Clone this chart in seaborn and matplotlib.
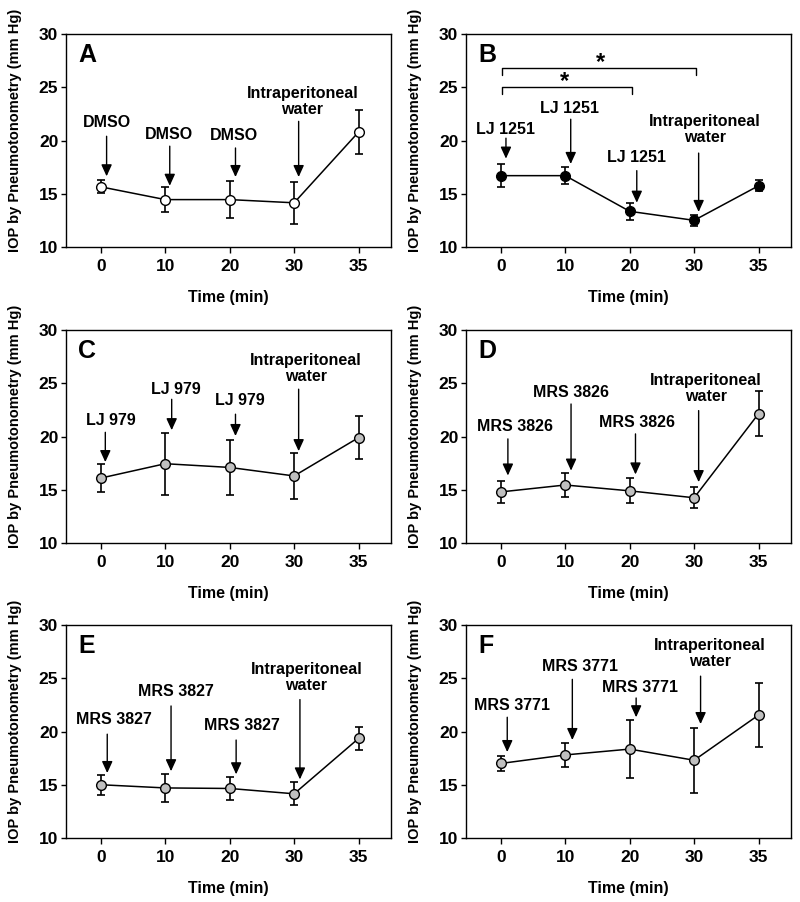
import numpy as np
import pandas as pd
import matplotlib
matplotlib.use("Agg")
import matplotlib.pyplot as plt
import seaborn as sns

sns.set_style("ticks")
plt.rcParams['font.family'] = ['Liberation Sans', 'DejaVu Sans']
plt.rcParams['font.weight'] = 'bold'
plt.rcParams['axes.labelweight'] = 'bold'
plt.rcParams['text.color'] = 'black'
plt.rcParams['axes.labelcolor'] = 'black'
plt.rcParams['xtick.color'] = 'black'
plt.rcParams['ytick.color'] = 'black'
plt.rcParams['axes.edgecolor'] = 'black'

# ---------------- data ----------------
times = ['0', '10', '20', '30', '35']

iop_A = [15.65, 14.45, 14.45, 14.15, 20.8]
sem_A = [0.6, 1.2, 1.75, 2.0, 2.1]
iop_B = [16.7, 16.7, 13.35, 12.5, 15.75]
sem_B = [1.1, 0.8, 0.78, 0.53, 0.5]
iop_C = [16.1, 17.45, 17.1, 16.3, 19.9]
sem_C = [1.35, 2.9, 2.6, 2.15, 2.0]
iop_D = [14.8, 15.45, 14.9, 14.25, 22.15]
sem_D = [1.03, 1.17, 1.18, 1.0, 2.14]
iop_E = [15.0, 14.7, 14.65, 14.15, 19.35]
sem_E = [0.93, 1.35, 1.04, 1.1, 1.05]
iop_F = [17.0, 17.8, 18.35, 17.3, 21.55]
sem_F = [0.73, 1.15, 2.73, 3.07, 3.03]

panel_letters = ['A', 'B', 'C', 'D', 'E', 'F']
drugs = ['DMSO', 'LJ 1251', 'LJ 979', 'MRS 3826', 'MRS 3827', 'MRS 3771']
water_label = 'Intraperitoneal\nwater'
face_colors = ['white', 'black', '#c0c0c0', '#c0c0c0', '#c0c0c0', '#c0c0c0']

# annotation layout: (text_x, text_y, arrow_x, arrow_y_start, arrow_y_end) per injection
ann_A = [(0.09, 21.67, 0.09, 20.4, 16.64), (1.05, 20.57, 1.07, 19.47, 15.75),
         (2.06, 20.47, 2.09, 19.3, 16.57), (3.13, 23.67, 3.07, 21.8, 16.57)]
ann_B = [(0.08, 21.06, 0.08, 20.22, 18.3), (1.07, 23.0, 1.085, 22.0, 17.8),
         (2.1, 18.4, 2.11, 17.17, 14.16), (3.17, 21.03, 3.07, 18.82, 13.29)]
ann_C = [(0.15, 21.5, 0.07, 20.4, 17.6), (1.17, 24.45, 1.1, 23.5, 20.6),
         (2.16, 23.35, 2.09, 22.1, 20.05), (3.18, 26.37, 3.07, 24.45, 18.63)]
ann_D = [(0.22, 20.94, 0.11, 19.78, 16.34), (1.09, 24.16, 1.09, 23.06, 16.8),
         (2.11, 21.34, 2.09, 20.25, 16.44), (3.18, 24.55, 3.07, 22.44, 15.72)]
ann_E = [(0.21, 21.1, 0.1, 19.75, 16.1), (1.17, 23.8, 1.09, 22.4, 16.27),
         (2.19, 20.6, 2.1, 19.2, 15.98), (3.19, 25.1, 3.09, 23.0, 15.5)]
ann_F = [(0.18, 22.43, 0.1, 21.34, 18.07), (1.23, 26.15, 1.11, 24.9, 19.2),
         (2.16, 24.15, 2.1, 23.15, 21.34), (3.24, 27.32, 3.1, 25.2, 20.7)]

values = [iop_A, iop_B, iop_C, iop_D, iop_E, iop_F]
sems = [sem_A, sem_B, sem_C, sem_D, sem_E, sem_F]
anns = [ann_A, ann_B, ann_C, ann_D, ann_E, ann_F]

# significance brackets in panel B: (x_start, x_end, y_bar, label_x, label_y)
brackets_B = [(0.02, 3.03, 26.83, 1.54, 27.3), (0.02, 2.04, 25.0, 0.99, 25.5)]

# ---------------- figure ----------------
fig = plt.figure(figsize=(8, 9.02), dpi=100)
lefts = [0.0825, 0.5825]
bottoms = [0.7262, 0.398, 0.071]
W, H = 0.406, 0.236

pos = np.arange(len(times))

for i in range(6):
    r, c = divmod(i, 2)
    ax = fig.add_axes([lefts[c], bottoms[r], W, H])
    df = pd.DataFrame({'pos': pos, 'iop': values[i]})
    ax.errorbar(pos, values[i], yerr=sems[i], fmt='none', ecolor='black',
                elinewidth=1.2, capsize=3.2, capthick=1.2, zorder=2)
    sns.lineplot(data=df, x='pos', y='iop', ax=ax, color='black', linewidth=1.1,
                 marker='o', markersize=7, markerfacecolor=face_colors[i],
                 markeredgecolor='black', markeredgewidth=1.0, zorder=3)
    ax.set_xlim(-0.54, 4.5)
    ax.set_ylim(10, 30)
    ax.set_xticks(pos)
    ax.set_xticklabels(times)
    ax.set_yticks([10, 15, 20, 25, 30])
    ax.tick_params(axis='x', direction='out', length=4.5, width=1, labelsize=12.5, pad=4,
                   colors='black')
    ax.tick_params(axis='y', direction='out', length=3.5, width=1, labelsize=12.5, pad=2,
                   colors='black')
    for lab in ax.get_xticklabels() + ax.get_yticklabels():
        lab.set_fontweight('bold')
    for sp in ax.spines.values():
        sp.set_visible(True)
        sp.set_linewidth(1.0)
        sp.set_color('black')
    ax.set_xlabel('Time (min)', fontsize=11.5, fontweight='bold', color='black')
    ax.set_ylabel('IOP by Pneumotonometry (mm Hg)', fontsize=10.5, fontweight='bold',
                  color='black')
    ax.xaxis.set_label_coords(0.5, -0.2)
    ax.yaxis.set_label_coords(-0.135, 0.55)

    ax.text(0.037, 0.958, panel_letters[i], transform=ax.transAxes, ha='left', va='top',
            fontsize=18, fontweight='bold', color='black')

    for k, (tx, ty, axx, ay0, ay1) in enumerate(anns[i]):
        label = drugs[i] if k < 3 else water_label
        ax.text(tx, ty, label, ha='center', va='center', fontsize=11.5,
                fontweight='bold', linespacing=1.1, color='black')
        ax.annotate('', xy=(axx, ay1), xytext=(axx, ay0),
                    arrowprops=dict(arrowstyle='-|>,head_length=0.7,head_width=0.32',
                                    color='black', lw=1.0, shrinkA=0, shrinkB=0))

    if i == 1:
        for x0, x1, yb, lx, ly in brackets_B:
            ax.plot([x0, x0, x1, x1], [yb - 0.65, yb, yb, yb - 0.65], color='black', lw=1.0)
            ax.text(lx, ly, '*', ha='center', va='center', fontsize=17, fontweight='bold',
                    color='black')

fig.savefig('out.png', dpi=100)
